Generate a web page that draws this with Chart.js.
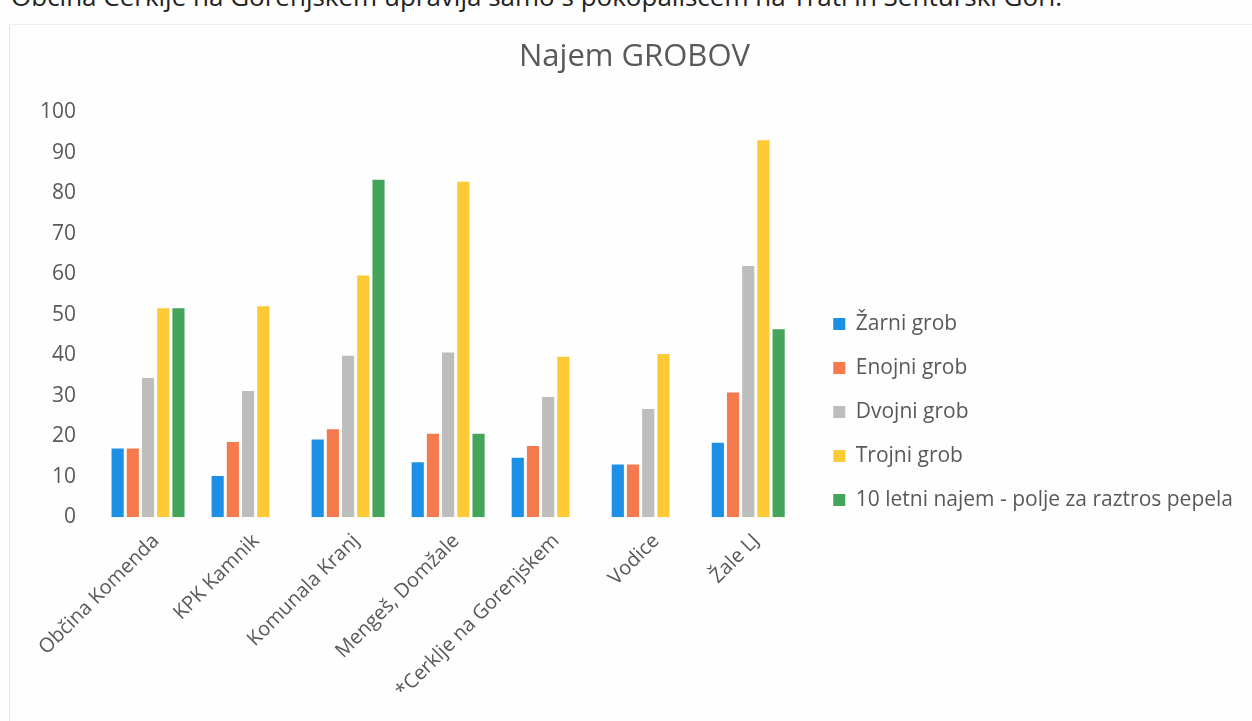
<!DOCTYPE html>
<html>
<head>
<meta charset="utf-8">
<script src="https://cdn.jsdelivr.net/npm/chart.js@4.4.1/dist/chart.umd.min.js"></script>
<style>
body { margin: 0; background: #fefefe; width: 1252px; height: 721px; overflow: hidden; position: relative; font-family: "Open Sans", sans-serif; }
#note { position: absolute; left: 11px; top: -22px; font-size: 26px; line-height: 36px; color: #222; white-space: nowrap; }
#box { position: absolute; left: 9px; top: 24px; width: 1243px; height: 697px; border-left: 1px solid #e4e4e4; border-top: 1px solid #eeeeee; }
</style>
</head>
<body>
<div id="note">Občina Cerklje na Gorenjskem upravlja samo s pokopališčem na Trati in Šenturski Gori.</div>
<div id="box"><canvas id="grobChart"></canvas></div>
<script>
const categories = ["Občina Komenda", "KPK Kamnik", "Komunala Kranj", "Mengeš, Domžale", "*Cerklje na Gorenjskem", "Vodice", "Žale LJ"];
const zarni   = [17, 10.2, 19.2, 13.6, 14.7, 13, 18.4];
const enojni  = [17, 18.6, 21.7, 20.6, 17.6, 13, 30.8];
const dvojni  = [34.4, 31.2, 39.9, 40.7, 29.7, 26.7, 62];
const trojni  = [51.6, 52.1, 59.7, 82.8, 39.6, 40.3, 93.1];
const raztros = [51.6, null, 83.3, 20.6, null, null, 46.4];
const yTicks = [0, 10, 20, 30, 40, 50, 60, 70, 80, 90, 100];

const txt = "#595959";

// legend and title sit a bit off from where chart.js puts them
const nudge = {
id: "nudge",
afterLayout(chart) {
const lg = chart.legend;
lg.left += 12; lg.right += 12;
lg.top += 46; lg.bottom += 46;
const tb = chart.titleBlock;
tb.left += 6; tb.right += 6;
}
};

const ctx = document.getElementById("grobChart");
ctx.width = 1243;
ctx.height = 697;

new Chart(ctx, {
type: "bar",
data: {
labels: categories,
datasets: [
{ label: "Žarni grob", data: zarni, backgroundColor: "#1c8fe6" },
{ label: "Enojni grob", data: enojni, backgroundColor: "#f57b4e" },
{ label: "Dvojni grob", data: dvojni, backgroundColor: "#bdbdbd" },
{ label: "Trojni grob", data: trojni, backgroundColor: "#fdc935" },
{ label: "10 letni najem - polje za raztros pepela", data: raztros, backgroundColor: "#44a55a" }
]
},
options: {
responsive: false,
animation: false,
layout: { padding: { left: 16, right: 22, bottom: 15 } },
datasets: { bar: { categoryPercentage: 0.76, barPercentage: 0.8 } },
plugins: {
title: {
display: true,
text: "Najem GROBOV",
color: txt,
font: { family: "Open Sans", size: 31, weight: "normal" },
padding: { top: 14, bottom: 36 }
},
legend: {
position: "right",
align: "center",
maxWidth: 470,
labels: {
color: txt,
font: { family: "Open Sans", size: 21 },
boxWidth: 12,
boxHeight: 12,
padding: 23
}
},
tooltip: { enabled: false }
},
scales: {
x: {
grid: { display: false },
border: { display: false },
ticks: {
color: txt,
font: { family: "Open Sans", size: 20 },
minRotation: 45,
maxRotation: 45,
labelOffset: 8,
padding: 4
}
},
y: {
min: 0,
max: 100,
afterBuildTicks: axis => { axis.ticks = yTicks.map(v => ({ value: v })); },
grid: { display: false },
border: { display: false },
ticks: {
color: txt,
font: { family: "Open Sans", size: 21 },
padding: 14
}
}
}
},
plugins: [nudge]
});
</script>
</body>
</html>
